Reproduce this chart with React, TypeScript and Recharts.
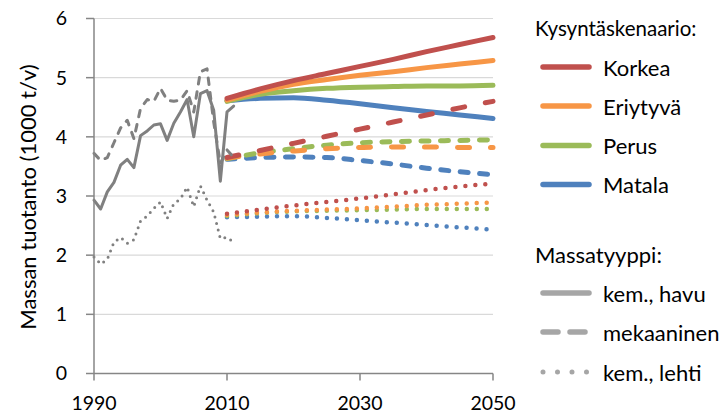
import React from "react";
import { LineChart, Line, XAxis, YAxis, CartesianGrid } from "recharts";

// ---- Historical data (1990–2011) ----
const histYears = [1990, 1991, 1992, 1993, 1994, 1995, 1996, 1997, 1998, 1999, 2000, 2001, 2002, 2003, 2004, 2005, 2006, 2007, 2008, 2009, 2010, 2011];
const histHavu = [2.93, 2.78, 3.07, 3.23, 3.52, 3.62, 3.48, 4.02, 4.1, 4.2, 4.22, 3.94, 4.23, 4.42, 4.63, 4.0, 4.73, 4.78, 4.45, 3.25, 4.42, 4.52];
const histMek = [3.72, 3.6, 3.65, 3.9, 4.15, 4.28, 3.97, 4.48, 4.63, 4.6, 4.82, 4.62, 4.6, 4.62, 4.78, 4.42, 5.1, 5.15, 4.25, 3.55, 3.78, 3.65];
const histLehti = [1.97, 1.85, 1.93, 2.22, 2.3, 2.2, 2.26, 2.58, 2.66, 2.79, 2.9, 2.62, 2.87, 2.95, 3.15, 2.82, 3.17, 2.93, 2.73, 2.28, 2.3, 2.22];

// ---- Scenario projections (2010–2050) ----
const projYears = [2010, 2015, 2020, 2025, 2030, 2035, 2040, 2045, 2050];
const korkeaHavu = [4.65, 4.81, 4.95, 5.07, 5.19, 5.31, 5.44, 5.56, 5.68];
const eriytyvaHavu = [4.62, 4.77, 4.89, 4.97, 5.04, 5.1, 5.17, 5.23, 5.29];
const perusHavu = [4.6, 4.72, 4.78, 4.82, 4.84, 4.85, 4.86, 4.86, 4.87];
const matalaHavu = [4.61, 4.65, 4.66, 4.62, 4.56, 4.49, 4.43, 4.37, 4.31];

const korkeaMek = [3.65, 3.77, 3.89, 4.01, 4.13, 4.25, 4.37, 4.49, 4.6];
const eriytyvaMek = [3.64, 3.71, 3.76, 3.8, 3.82, 3.83, 3.83, 3.82, 3.82];
const perusMek = [3.63, 3.73, 3.8, 3.86, 3.9, 3.92, 3.93, 3.94, 3.95];
const matalaMek = [3.62, 3.65, 3.66, 3.65, 3.6, 3.54, 3.47, 3.41, 3.36];

const korkeaLehti = [2.7, 2.77, 2.84, 2.9, 2.96, 3.03, 3.1, 3.16, 3.21];
const eriytyvaLehti = [2.68, 2.72, 2.75, 2.77, 2.79, 2.82, 2.85, 2.87, 2.89];
const perusLehti = [2.66, 2.71, 2.74, 2.75, 2.76, 2.77, 2.78, 2.78, 2.78];
const matalaLehti = [2.64, 2.65, 2.66, 2.63, 2.59, 2.55, 2.51, 2.47, 2.43];

// ---- Labels ----
const xTicks = [1990, 2010, 2030, 2050];
const yTicks = [0, 1, 2, 3, 4, 5, 6];
const yLabel = "Massan tuotanto (1000 t/v)";
const scenarioTitle = "Kysyntäskenaario:";
const scenarioNames = ["Korkea", "Eriytyvä", "Perus", "Matala"];
const typeTitle = "Massatyyppi:";
const typeNames = ["kem., havu", "mekaaninen", "kem., lehti"];

const COLORS: Record<string, string> = {
  Korkea: "#C0504D",
  "Eriytyvä": "#F79646",
  Perus: "#9BBB59",
  Matala: "#4F81BD",
};
const GRAY = "#808080";
const LEGEND_GRAY = "#A6A6A6";
const FONT = "Lato, 'Open Sans', sans-serif";

const toRows = (xs: number[], ys: number[]) => xs.map((year, i) => ({ year, v: ys[i] }));

const histSeries = [
  { key: "h-havu", data: toRows(histYears, histHavu), dash: undefined, width: 3 },
  { key: "h-mek", data: toRows(histYears, histMek), dash: "6.5 8", width: 3 },
  { key: "h-lehti", data: toRows(histYears, histLehti), dash: "0 6.7", width: 3 },
];

const projByName: Record<string, number[][]> = {
  Korkea: [korkeaHavu, korkeaMek, korkeaLehti],
  "Eriytyvä": [eriytyvaHavu, eriytyvaMek, eriytyvaLehti],
  Perus: [perusHavu, perusMek, perusLehti],
  Matala: [matalaHavu, matalaMek, matalaLehti],
};

const dashFor = (name: string, typeIdx: number) => {
  if (typeIdx === 0) return undefined;
  if (typeIdx === 2) return "0 10";
  return name === "Korkea" || name === "Eriytyvä" ? "12 21" : "8 11.5";
};

// draw order: Matala first, Korkea last (on top)
const drawOrder = ["Matala", "Perus", "Eriytyvä", "Korkea"];

const Legend = () => {
  const lx1 = 543;
  const lx2 = 589;
  const tx = 603;
  const scenY = [67, 106, 145.5, 184.5];
  const typeY = [293, 332, 372];
  return (
    <svg width={728} height={418} style={{ position: "absolute", left: 0, top: 0, pointerEvents: "none" }}>
      <g fontFamily={FONT} fontSize={22} fill="#000">
        <text x={535} y={36} fontSize={20.5}>{scenarioTitle}</text>
        {scenarioNames.map((n, i) => (
          <g key={n}>
            <line x1={lx1} x2={lx2} y1={scenY[i]} y2={scenY[i]} stroke={COLORS[n]} strokeWidth={5.5} strokeLinecap="round" />
            <text x={tx} y={scenY[i] + 8.5}>{n}</text>
          </g>
        ))}
        <text x={535} y={263}>{typeTitle}</text>
        {typeNames.map((n, i) => (
          <g key={n}>
            <line
              x1={lx1}
              x2={lx2}
              y1={typeY[i]}
              y2={typeY[i]}
              stroke={LEGEND_GRAY}
              strokeWidth={i === 2 ? 5 : 5.5}
              strokeLinecap="round"
              strokeDasharray={i === 0 ? undefined : i === 1 ? "15 12" : "0 14.5"}
            />
            <text x={tx} y={typeY[i] + 8.5}>{n}</text>
          </g>
        ))}
      </g>
    </svg>
  );
};

export default function App() {
  return (
    <div style={{ position: "absolute", left: 0, top: 0, width: 728, height: 418, background: "#fff" }}>
      <LineChart width={728} height={418} margin={{ top: 18.5, right: 235, bottom: 0.5, left: 0 }}>
        <CartesianGrid horizontal vertical={false} stroke="#D9D9D9" strokeWidth={1.2} />
        <XAxis
          type="number"
          dataKey="year"
          domain={[1990, 2050]}
          ticks={xTicks}
          interval={0}
          height={44}
          tickSize={7}
          tickMargin={16}
          axisLine={{ stroke: "#868686", strokeWidth: 1.5 }}
          tickLine={{ stroke: "#868686", strokeWidth: 1.5 }}
          tick={{ fill: "#000", fontSize: 19.5, fontFamily: FONT }}
          allowDuplicatedCategory={false}
        />
        <YAxis
          type="number"
          domain={[0, 6]}
          ticks={yTicks}
          interval={0}
          width={94}
          tickSize={8}
          tickMargin={19}
          axisLine={{ stroke: "#868686", strokeWidth: 1.5 }}
          tickLine={{ stroke: "#868686", strokeWidth: 1.5 }}
          tick={{ fill: "#000", fontSize: 19.5, fontFamily: FONT }}
          label={{
            content: () => (
              <text
                x={27}
                y={197}
                transform="rotate(-90 27 197)"
                textAnchor="middle"
                dominantBaseline="central"
                fontSize={22}
                fontFamily={FONT}
                fill="#000"
              >
                {yLabel}
              </text>
            ),
          }}
        />
        {[0, 1, 2].map((t) =>
          drawOrder.map((name) => (
            <Line
              key={`${name}-${t}`}
              data={toRows(projYears, projByName[name][t])}
              dataKey="v"
              type="monotone"
              stroke={COLORS[name]}
              strokeWidth={t === 2 ? 4.5 : 5}
              strokeLinecap="round"
              strokeDasharray={dashFor(name, t)}
              dot={false}
              activeDot={false}
              isAnimationActive={false}
            />
          ))
        )}
        {histSeries.map((s) => (
          <Line
            key={s.key}
            data={s.data}
            dataKey="v"
            type="linear"
            stroke={GRAY}
            strokeWidth={s.width}
            strokeLinecap="round"
            strokeLinejoin="round"
            strokeDasharray={s.dash}
            dot={false}
            activeDot={false}
            isAnimationActive={false}
          />
        ))}
      </LineChart>
      <Legend />
    </div>
  );
}
